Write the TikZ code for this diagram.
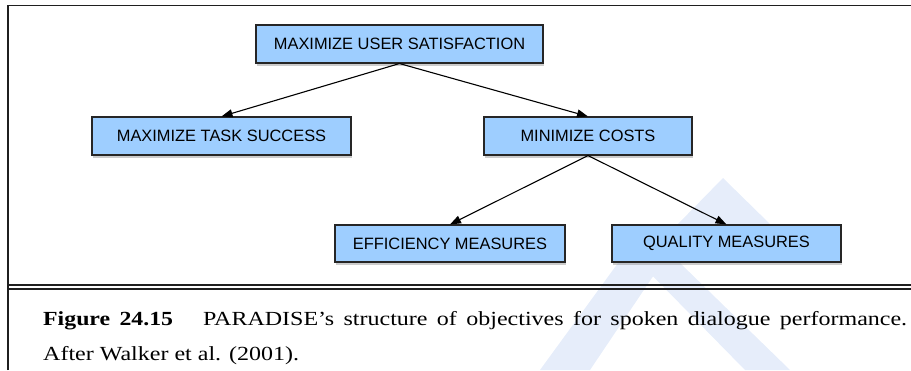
\documentclass[tikz,border=0pt]{standalone}
\usepackage{fontspec}
\usetikzlibrary{arrows.meta,shadows}
\newfontfamily\boxfont{Liberation Sans}
\newfontfamily\capfont[FakeStretch=1.2,BoldFeatures={FakeStretch=1.19}]{Liberation Serif}
\definecolor{boxblue}{RGB}{158,206,255}
\definecolor{markblue}{RGB}{230,237,250}
\begin{document}
\begin{tikzpicture}[x=1pt, y=-1pt,
box_style/.style={rectangle,draw=black!85,line width=1.1pt,fill=boxblue,minimum height=38pt,inner sep=0pt,
  font=\boxfont\fontsize{16.4}{19}\selectfont,
  drop shadow={shadow xshift=1pt,shadow yshift=-3pt,opacity=0.4}},
edge_style/.style={draw=black,line width=1.1pt,-{Triangle[length=11pt,width=8pt]}},
frame_style/.style={draw=black!88,line width=1.6pt},
mark_style/.style={fill=markblue,draw=none},
caption_style/.style={anchor=north west,inner sep=0pt,text width=864pt,align=justify,
  font=\capfont\fontsize{20}{35}\selectfont}]
\useasboundingbox (0,0) rectangle (911,370);

% watermark behind everything
\fill[mark_style] (723,178) -- (772,226) -- (676,226) -- cycle;
\fill[mark_style] (618,263) -- (662,263) -- (590,370) -- (540,370) -- cycle;
\fill[mark_style] (640,263) -- (680,263) -- (790,370) -- (745,370) -- cycle;

% frame and rules
\draw[frame_style] (8,370) -- (8,5.5) -- (911,5.5);
\draw[frame_style] (8,285) -- (911,285);
\draw[frame_style] (8,289) -- (911,289);

\node[box_style,minimum width=287pt] (sat) at (399.5,44) {MAXIMIZE USER SATISFACTION};
\node[box_style,minimum width=259pt] (task) at (221.5,136) {MAXIMIZE TASK SUCCESS};
\node[box_style,minimum width=208pt] (costs) at (588,136) {MINIMIZE COSTS};
\node[box_style,minimum width=230pt,minimum height=37pt] (eff) at (450,243.5) {EFFICIENCY MEASURES};
\node[box_style,minimum width=229pt,minimum height=37pt] (qual) at (726.5,243.5) {QUALITY MEASURES};

\path (sat.south) edge[edge_style] (task.north);
\path (sat.south) edge[edge_style] (costs.north);
\path (costs.south) edge[edge_style] (eff.north);
\path (costs.south) edge[edge_style] (qual.north);

\node[caption_style] (cap) at (43,311.3) {\hyphenpenalty=10000 \textbf{Figure 24.15}\hspace{30pt}PARADISE’s structure of objectives for spoken dialogue performance.\linebreak After Walker et al. (2001).};
\end{tikzpicture}
\end{document}
